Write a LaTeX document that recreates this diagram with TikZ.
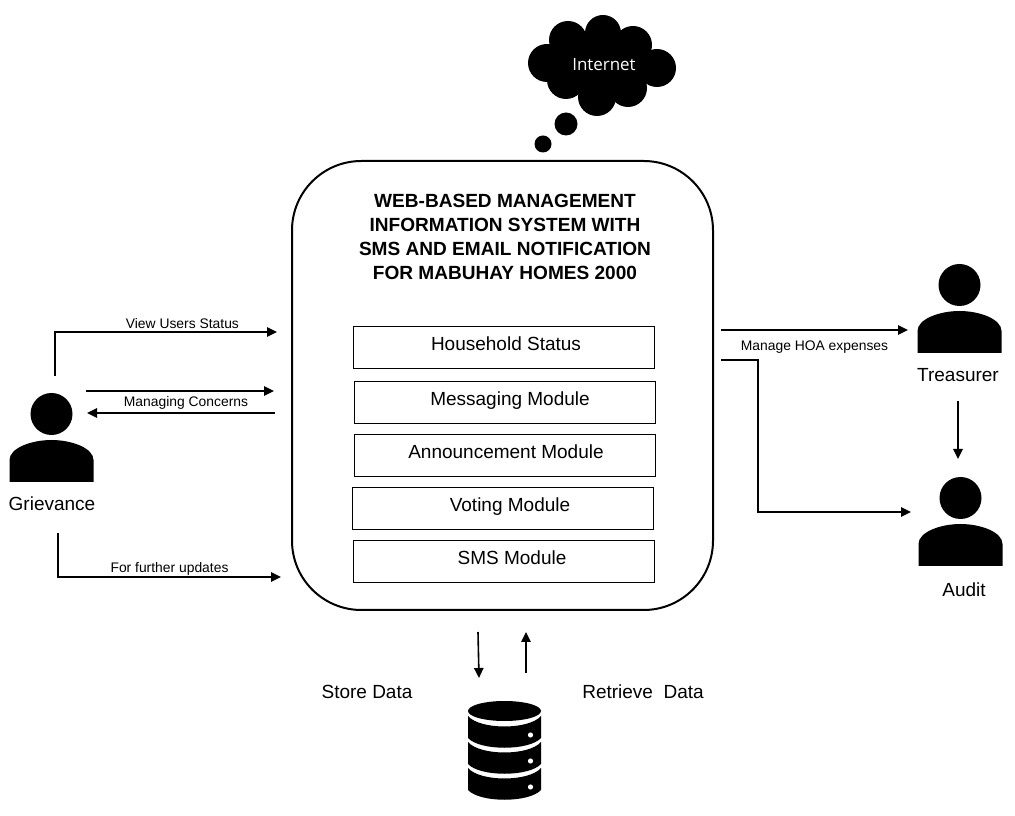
\documentclass[tikz,border=0pt]{standalone}
\usepackage{fontspec}
\setmainfont{Liberation Sans}
\newfontfamily\cloudfont{Open Sans}
\usetikzlibrary{arrows.meta}
\tikzstyle{arrow} = [line width=1.2pt,-{Triangle[length=7.5pt,width=7pt]}]
\tikzstyle{system} = [rectangle, rounded corners=52pt, minimum width=315.75pt, minimum height=336.75pt, draw=black, line width=1.5pt]
\tikzstyle{module} = [rectangle, minimum width=225.75pt, minimum height=31.5pt, draw=black, line width=0.6pt]
\tikzstyle{modtext} = [font=\fontsize{14.25pt}{16pt}\selectfont, text height=10.5pt, text depth=3pt]
\tikzstyle{big} = [font=\fontsize{14.25pt}{16pt}\selectfont]
\tikzstyle{small} = [font=\fontsize{10.4pt}{12pt}\selectfont]
\tikzstyle{puff} = [circle, fill=black, inner sep=0pt]
\newcommand{\person}[3]{
    \node (#1) [puff, minimum size=31.5pt] at (#2,#3) {};
    \fill (#2-42,#3+68) -- (#2-42,#3+46) .. controls (#2-42,#3+34) and (#2-20,#3+26) .. (#2,#3+26) .. controls (#2+20,#3+26) and (#2+42,#3+34) .. (#2+42,#3+46) -- (#2+42,#3+68) -- cycle;
}
\begin{document}
\begin{tikzpicture}[x=0.75pt,y=-0.75pt]
    \useasboundingbox (0,0) rectangle (1015,816);

    % cloud
    \fill (547,63) -- (568,40) -- (603,33) -- (633,45) -- (657,68) -- (628,88) -- (597,97) -- (566,80) -- cycle;
    \foreach \cx/\cy/\cr in {547/63/19, 568/40/19, 603/33/18, 633/45/19, 657/68/19, 628/88/19, 597/97/19, 566/80/19} {
        \fill (\cx,\cy) circle (\cr);
    }
    \node (bubbleA) [puff, minimum size=17.25pt] at (566,124) {};
    \node (bubbleB) [puff, minimum size=12.75pt] at (543,144) {};
    \node (internet) [text=white, font=\cloudfont\fontsize{12.7pt}{14pt}\selectfont] at (604,65) {Internet};

    % system
    \node (system) [system] at (502.5,385.5) {};
    \node (title) [align=center, font=\bfseries\fontsize{14.3pt}{17.8pt}\selectfont] at (505,237) {WEB-BASED MANAGEMENT\\INFORMATION SYSTEM WITH\\SMS AND EMAIL NOTIFICATION\\FOR MABUHAY HOMES 2000};
    \node (household) [module, label={[modtext,xshift=1.5pt,yshift=0.75pt]center:Household Status}] at (504,347) {};
    \node (messaging) [module, label={[modtext,xshift=3.75pt,yshift=0.75pt]center:Messaging Module}] at (505,402) {};
    \node (announce) [module, label={[modtext,xshift=0.75pt,yshift=0.75pt]center:Announcement Module}] at (505,455) {};
    \node (voting) [module, label={[modtext,xshift=5.25pt,yshift=0.75pt]center:Voting Module}] at (503,508) {};
    \node (sms) [module, label={[modtext,xshift=6pt,yshift=0.75pt]center:SMS Module}] at (504,561) {};

    % people
    \person{grievance}{51.5}{414}
    \person{treasurer}{959.5}{285}
    \person{audit}{960.5}{498}
    \node (grievtext) [big] at (52,504) {Grievance};
    \node (treastext) [big] at (958,375) {Treasurer};
    \node (audittext) [big] at (964,590) {Audit};

    % database
    \fill (504.5,711) ellipse (36.5 and 10);
    \foreach \by in {0,26,52} {
        \fill (468,716+\by) .. controls (480,730+\by) and (529,730+\by) .. (541,716+\by) -- (541,738+\by) .. controls (529,751+\by) and (480,751+\by) .. (468,738+\by) -- cycle;
        \fill[white] (530.5,735+\by) circle (2.6);
    }
    \node (datatext) [big] at (367,692) {Store Data};
    \node (rettext) [big] at (643,692) {Retrieve\ \ Data};

    % free ends of the arrows
    \coordinate (viewA) at (55,376);
    \coordinate (viewB) at (277,332);
    \coordinate (concA) at (86,391);
    \coordinate (concB) at (274,391);
    \coordinate (concC) at (275,413);
    \coordinate (concD) at (87,413);
    \coordinate (furtherA) at (58,533);
    \coordinate (furtherB) at (281,577);
    \coordinate (hoaA) at (721,330);
    \coordinate (hoaB) at (908,330);
    \coordinate (auditA) at (721,360);
    \coordinate (auditB) at (911,512);
    \coordinate (treasA) at (958,401);
    \coordinate (treasB) at (958,459);
    \coordinate (storeA) at (478,632);
    \coordinate (storeB) at (479,678);
    \coordinate (retA) at (526,673);
    \coordinate (retB) at (526,632);

    \draw [arrow] (viewA) |- node[pos=0.787, above, small, inner sep=1.75pt] {View Users Status} (viewB);
    \draw [arrow] (concA) -- (concB);
    \draw [arrow] (concC) -- node[above, small, inner sep=2pt, xshift=3.75pt] {Managing Concerns} (concD);
    \draw [arrow] (furtherA) |- node[pos=0.75, above, small, inner sep=0.5pt] {For further updates} (furtherB);
    \draw [arrow] (hoaA) -- node[below, small, inner sep=7.25pt] {Manage HOA expenses} (hoaB);
    \draw [arrow] (auditA) -- ++(37,0) |- (auditB);
    \draw [arrow] (treasA) -- (treasB);
    \draw [arrow] (storeA) -- (storeB);
    \draw [arrow] (retA) -- (retB);
\end{tikzpicture}
\end{document}
